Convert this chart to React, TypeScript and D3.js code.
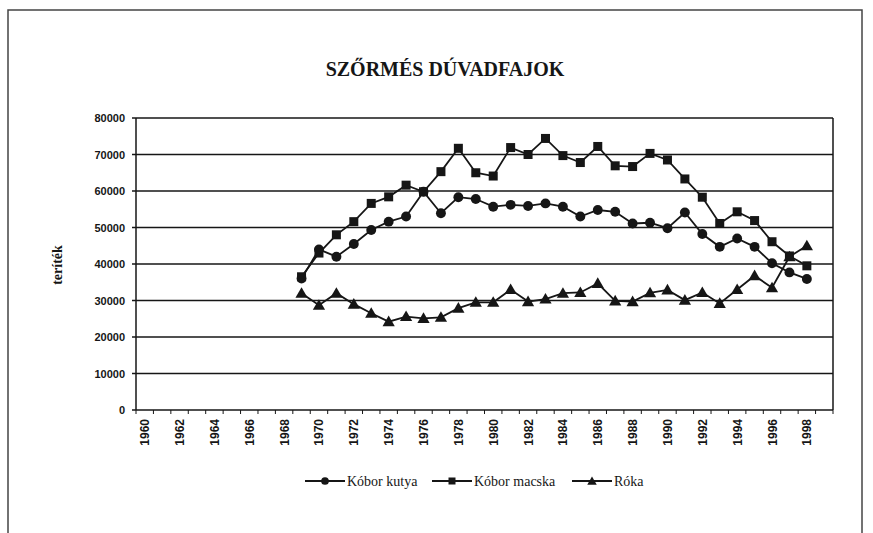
import React from 'react';
import * as d3 from 'd3';

// year axis runs 1960..1999, labels every 2nd year
const years = d3.range(1960, 2000);
const dataYears = d3.range(1969, 1999);
const yTicks = [0, 10000, 20000, 30000, 40000, 50000, 60000, 70000, 80000];

const koborKutya = [
  36000, 44000, 42000, 45500, 49300, 51600, 53000, 59800, 53900, 58300,
  57800, 55700, 56200, 55900, 56600, 55700, 53000, 54800, 54300, 51100,
  51300, 49800, 54100, 48200, 44700, 47000, 44700, 40200, 37700, 35900,
];
const koborMacska = [
  36500, 43000, 48000, 51600, 56600, 58400, 61600, 59800, 65300, 71700,
  65000, 64100, 71900, 70000, 74400, 69700, 67800, 72200, 66900, 66700,
  70300, 68500, 63300, 58300, 51100, 54300, 51900, 46100, 42200, 39500,
];
const roka = [
  32000, 28700, 32000, 29000, 26500, 24200, 25600, 25100, 25400, 27900,
  29500, 29500, 33000, 29700, 30400, 32000, 32200, 34700, 29900, 29700,
  32100, 32900, 30100, 32200, 29200, 33000, 36800, 33500, 42000, 45000,
];

const seriesNames = ['Kóbor kutya', 'Kóbor macska', 'Róka'];
const seriesValues = [koborKutya, koborMacska, roka];
const markers = ['circle', 'square', 'triangle'];

const W = 873;
const H = 533;
const ink = '#161616';
const serif = '"Liberation Serif", "DejaVu Serif", serif';
const sans = '"Liberation Sans", Arial, sans-serif';

const Marker = ({ type, x, y, s }: { type: string; x: number; y: number; s: number }) => {
  if (type === 'circle') return <circle cx={x} cy={y} r={s * 0.55} fill={ink} />;
  if (type === 'square')
    return <rect x={x - s / 2} y={y - s / 2} width={s} height={s} fill={ink} />;
  const tri = d3.symbol().type(d3.symbolTriangle).size(s * s * 0.8)();
  return <path d={tri || ''} transform={`translate(${x},${y + 1})`} fill={ink} />;
};

export default function App() {
  const x = d3.scaleBand<number>().domain(years).range([136, 833]).padding(0);
  const y = d3.scaleLinear().domain([0, 80000]).range([410, 118]);
  const cx = (yr: number) => (x(yr) as number) + x.bandwidth() / 2;

  const line = d3
    .line<number>()
    .x((_, i) => cx(dataYears[i]))
    .y((d) => y(d));

  const legendX = [305, 432, 572];

  return (
    <svg
      width={W}
      height={H}
      style={{ position: 'absolute', left: 0, top: 0, background: '#fff' }}
    >
      <rect x={8} y={10} width={854} height={540} fill="none" stroke="#444" strokeWidth={1.5} />

      <text
        x={445}
        y={76}
        textAnchor="middle"
        fontFamily={serif}
        fontWeight="bold"
        fontSize={20}
        fill={ink}
      >
        SZŐRMÉS DÚVADFAJOK
      </text>

      {/* gridlines + y axis */}
      {yTicks.map((t) => (
        <g key={t}>
          <line x1={132} x2={833} y1={y(t)} y2={y(t)} stroke={ink} strokeWidth={1.5} />
          <text
            x={125}
            y={y(t) + 4}
            textAnchor="end"
            fontFamily={sans}
            fontWeight="bold"
            fontSize={11}
            fill={ink}
          >
            {t}
          </text>
        </g>
      ))}
      <line x1={136} x2={136} y1={118} y2={410} stroke={ink} strokeWidth={1.5} />
      <line x1={833} x2={833} y1={118} y2={410} stroke={ink} strokeWidth={1.5} />

      {/* x ticks at band edges */}
      {years.concat([2000]).map((yr) => {
        const px = yr === 2000 ? 833 : (x(yr) as number);
        return <line key={yr} x1={px} x2={px} y1={410} y2={414} stroke={ink} strokeWidth={1} />;
      })}
      {years
        .filter((yr) => yr % 2 === 0)
        .map((yr) => (
          <text
            key={yr}
            transform={`translate(${cx(yr) + 4.5},419) rotate(-90)`}
            textAnchor="end"
            fontFamily={sans}
            fontWeight="bold"
            fontSize={12}
            fill={ink}
          >
            {yr}
          </text>
        ))}

      <text
        transform="translate(62,265) rotate(-90)"
        textAnchor="middle"
        fontFamily={serif}
        fontWeight="bold"
        fontSize={14}
        fill={ink}
      >
        teríték
      </text>

      {/* series */}
      {seriesValues.map((vals, si) => (
        <g key={seriesNames[si]}>
          <path d={line(vals) || ''} fill="none" stroke={ink} strokeWidth={1.8} />
          {vals.map((v, i) => (
            <Marker key={i} type={markers[si]} x={cx(dataYears[i])} y={y(v)} s={9} />
          ))}
        </g>
      ))}

      {/* legend */}
      {seriesNames.map((name, si) => (
        <g key={name} transform={`translate(${legendX[si]},481)`}>
          <line x1={0} x2={40} y1={0} y2={0} stroke={ink} strokeWidth={1.8} />
          <Marker type={markers[si]} x={20} y={0} s={7} />
          <text x={42} y={5} fontFamily={serif} fontSize={14} fill={ink}>
            {name}
          </text>
        </g>
      ))}
    </svg>
  );
}
